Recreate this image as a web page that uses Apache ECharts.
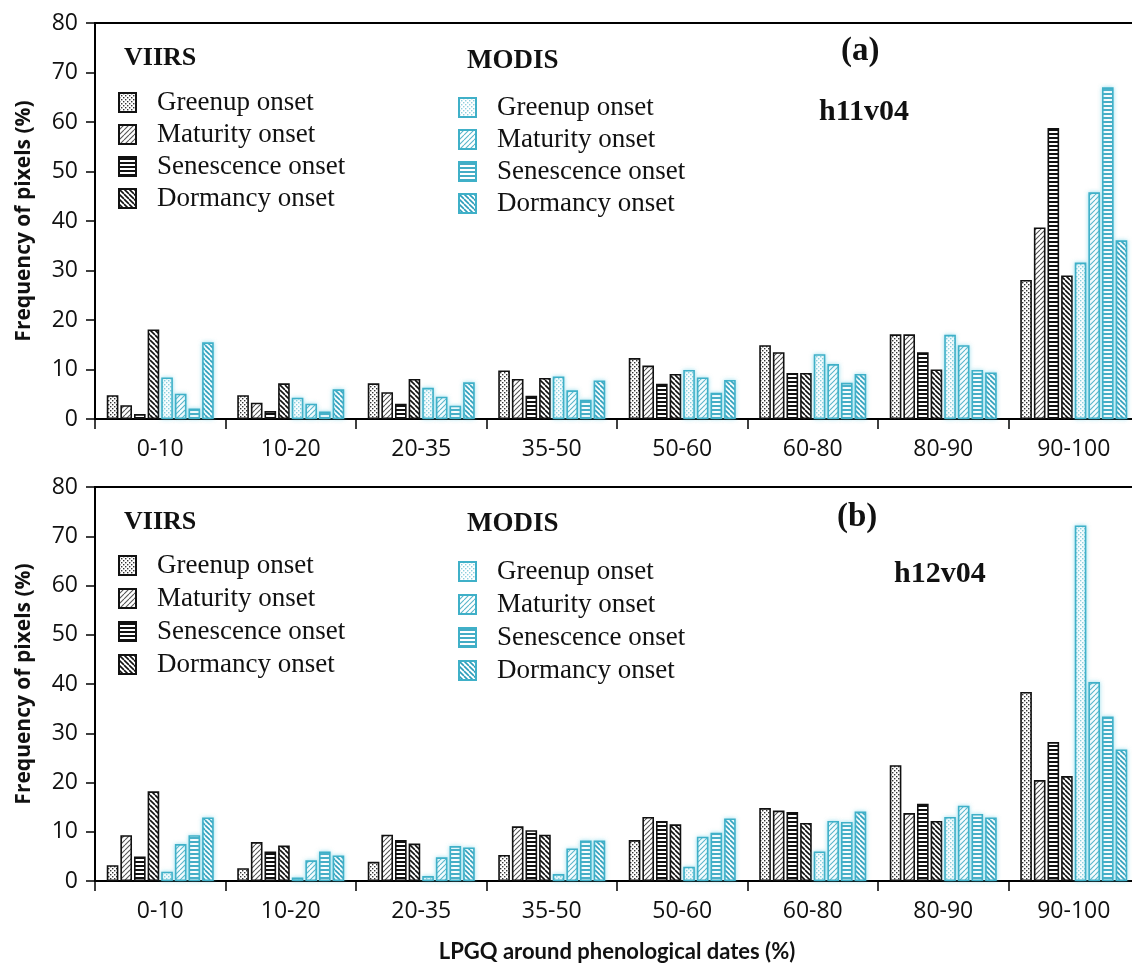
<!DOCTYPE html>
<html>
<head>
<meta charset="utf-8">
<script src="https://cdn.jsdelivr.net/npm/echarts@6/dist/echarts.min.js"></script>
<style>
  html, body { margin: 0; padding: 0; background: #fff; overflow: hidden; }
  /* the plot frame runs a little past the right edge of the page */
  #chart { width: 1150px; height: 964px; }
</style>
</head>
<body>
<div id="chart"></div>
<script>
// LPGQ classes on the x axis
const categories = ['0-10', '10-20', '20-35', '35-50', '50-60', '60-80', '80-90', '90-100'];
const onsetNames = ['Greenup onset', 'Maturity onset', 'Senescence onset', 'Dormancy onset'];
const yTicks = [0, 10, 20, 30, 40, 50, 60, 70, 80];

// (a) tile h11v04 — frequency of pixels (%)
const a_viirs_greenup    = [4.8, 4.8, 7.2, 9.8, 12.3, 14.9, 17.1, 28.1];
const a_viirs_maturity   = [2.8, 3.3, 5.4, 8.1, 10.8, 13.5, 17.1, 38.7];
const a_viirs_senescence = [1.0, 1.6, 3.1, 4.7, 7.1, 9.3, 13.5, 58.8];
const a_viirs_dormancy   = [18.1, 7.2, 8.1, 8.3, 9.1, 9.3, 10.0, 29.0];
const a_modis_greenup    = [8.4, 4.3, 6.3, 8.6, 9.9, 13.1, 17.0, 31.6];
const a_modis_maturity   = [5.1, 3.1, 4.5, 5.8, 8.4, 11.1, 14.9, 45.8];
const a_modis_senescence = [2.1, 1.5, 2.7, 3.9, 5.3, 7.3, 9.9, 67.0];
const a_modis_dormancy   = [15.5, 6.0, 7.4, 7.8, 7.9, 9.1, 9.4, 36.1];

// (b) tile h12v04 — frequency of pixels (%)
const b_viirs_greenup    = [3.2, 2.6, 3.9, 5.3, 8.3, 14.8, 23.5, 38.4];
const b_viirs_maturity   = [9.3, 7.9, 9.4, 11.1, 13.0, 14.3, 13.8, 20.5];
const b_viirs_senescence = [5.0, 6.0, 8.3, 10.3, 12.2, 14.0, 15.7, 28.2];
const b_viirs_dormancy   = [18.2, 7.2, 7.6, 9.4, 11.5, 11.8, 12.2, 21.3];
const b_modis_greenup    = [1.9, 0.7, 1.0, 1.4, 2.9, 6.0, 13.0, 72.2];
const b_modis_maturity   = [7.5, 4.2, 4.8, 6.6, 9.0, 12.2, 15.3, 40.4];
const b_modis_senescence = [9.3, 6.0, 7.1, 8.2, 9.8, 12.0, 13.6, 33.4];
const b_modis_dormancy   = [12.9, 5.2, 6.8, 8.2, 12.7, 14.1, 12.9, 26.7];

// ---- hatch fills -------------------------------------------------------
function hatch(kind, fg, lw) {
  const c = document.createElement('canvas');
  const s = kind === 'dots' ? 4 : (kind === 'hline' ? 4 : 5);
  c.width = s; c.height = s;
  const g = c.getContext('2d');
  g.fillStyle = '#fff';
  g.fillRect(0, 0, s, s);
  g.fillStyle = fg;
  g.strokeStyle = fg;
  g.lineWidth = lw;
  if (kind === 'dots') {
    g.fillRect(0, 0, 1.4, 1.4);
    g.fillRect(2, 2, 1.4, 1.4);
  } else if (kind === 'hline') {
    g.fillRect(0, 1, s, lw);
  } else {
    g.beginPath();
    for (let k = -1; k <= 1; k++) {
      if (kind === 'slash') { g.moveTo(k * s, s); g.lineTo(k * s + s, 0); }
      else { g.moveTo(k * s, 0); g.lineTo(k * s + s, s); }
    }
    g.stroke();
  }
  return { image: c, repeat: 'repeat' };
}

const TEAL = '#3fb0c8';
const styles = {
  VIIRS: [
    { fill: hatch('dots', '#333', 1), border: '#111' },
    { fill: hatch('slash', '#555', 1.1), border: '#111' },
    { fill: hatch('hline', '#111', 2), border: '#111' },
    { fill: hatch('back', '#111', 1.6), border: '#111' }
  ],
  MODIS: [
    { fill: hatch('dots', '#8fcfdd', 1), border: TEAL },
    { fill: hatch('slash', '#5ab6cb', 1.1), border: TEAL },
    { fill: hatch('hline', '#45acc5', 2), border: TEAL },
    { fill: hatch('back', '#2d9dba', 1.6), border: TEAL }
  ]
};

const panels = [
  {
    VIIRS: [a_viirs_greenup, a_viirs_maturity, a_viirs_senescence, a_viirs_dormancy],
    MODIS: [a_modis_greenup, a_modis_maturity, a_modis_senescence, a_modis_dormancy]
  },
  {
    VIIRS: [b_viirs_greenup, b_viirs_maturity, b_viirs_senescence, b_viirs_dormancy],
    MODIS: [b_modis_greenup, b_modis_maturity, b_modis_senescence, b_modis_dormancy]
  }
];

const series = [];
panels.forEach((p, pi) => {
  ['VIIRS', 'MODIS'].forEach(sensor => {
    p[sensor].forEach((vals, k) => {
      const st = styles[sensor][k];
      series.push({
        name: sensor + ' ' + onsetNames[k],
        type: 'bar',
        xAxisIndex: pi,
        yAxisIndex: pi,
        data: vals,
        barGap: '17%',
        barCategoryGap: '18%',
        itemStyle: {
          color: st.fill,
          borderColor: st.border,
          borderWidth: 1.6,
          shadowBlur: sensor === 'MODIS' ? 4 : 0,
          shadowColor: sensor === 'MODIS' ? 'rgba(100,205,228,0.55)' : 'transparent'
        },
        emphasis: { disabled: true },
        animation: false
      });
    });
  });
});

const grids = [
  { left: 95, top: 23, width: 1044, height: 396 },
  { left: 95, top: 487, width: 1044, height: 398 }
];

const tickFont = { fontFamily: 'Open Sans', fontSize: 23, color: '#111' };

const xAxes = grids.map((g, i) => ({
  type: 'category',
  gridIndex: i,
  data: categories,
  axisLine: { lineStyle: { color: '#000', width: 2 } },
  axisTick: { show: true, length: 10, lineStyle: { color: '#000', width: 1.5 } },
  axisLabel: Object.assign({ margin: 19 }, tickFont),
  name: i === 1 ? 'LPGQ around phenological dates (%)' : '',
  nameLocation: 'middle',
  nameGap: 60,
  nameTextStyle: { fontFamily: 'Lato', fontWeight: 'bold', fontSize: 22, color: '#111' }
}));

const yAxes = grids.map((g, i) => ({
  type: 'value',
  gridIndex: i,
  min: yTicks[0],
  max: yTicks[yTicks.length - 1],
  interval: yTicks[1] - yTicks[0],
  axisLine: { show: true, lineStyle: { color: '#000', width: 2 } },
  axisTick: { show: true, length: 9, lineStyle: { color: '#000', width: 1.5 } },
  axisLabel: Object.assign({ margin: 17 }, tickFont),
  splitLine: { show: false },
  name: 'Frequency of pixels (%)',
  nameLocation: 'middle',
  nameRotate: 90,
  nameGap: 60,
  nameTextStyle: { fontFamily: 'Open Sans', fontWeight: 'bold', fontSize: 21, color: '#111' }
}));

// legends: one column per sensor in each panel
const legendBase = {
  orient: 'vertical',
  icon: 'rect',
  itemWidth: 17,
  itemHeight: 19,
  padding: 0,
  selectedMode: false,
  formatter: n => n.replace(/^(VIIRS|MODIS) /, ''),
  textStyle: {
    fontFamily: 'Liberation Serif', fontSize: 27,
    color: '#111', padding: [0, 0, 0, 16]
  }
};
const legendPos = [
  { VIIRS: { left: 118, top: 89, itemGap: 5 }, MODIS: { left: 458, top: 94, itemGap: 5 } },
  { VIIRS: { left: 118, top: 552, itemGap: 6 }, MODIS: { left: 458, top: 558, itemGap: 6 } }
];
const legends = [];
legendPos.forEach(pos => {
  ['VIIRS', 'MODIS'].forEach(sensor => {
    legends.push(Object.assign({}, legendBase, pos[sensor], {
      data: onsetNames.map(n => sensor + ' ' + n)
    }));
  });
});

const serifBold = sz => 'bold ' + sz + 'px "Liberation Serif"';
const labels = [
  { text: 'VIIRS', left: 124, top: 45, font: serifBold(26) },
  { text: 'MODIS', left: 467, top: 48, font: serifBold(27) },
  { text: '(a)', left: 841, top: 35, font: serifBold(33) },
  { text: 'h11v04', left: 819, top: 97, font: serifBold(30) },
  { text: 'VIIRS', left: 124, top: 509, font: serifBold(26) },
  { text: 'MODIS', left: 467, top: 511, font: serifBold(27) },
  { text: '(b)', left: 837, top: 501, font: serifBold(33) },
  { text: 'h12v04', left: 894, top: 559, font: serifBold(30) }
];

const chart = echarts.init(document.getElementById('chart'), null, { renderer: 'canvas', devicePixelRatio: 1 });
chart.setOption({
  backgroundColor: '#fff',
  animation: false,
  grid: grids.map(g => Object.assign({ show: true, borderColor: '#000', borderWidth: 2, backgroundColor: 'transparent' }, g)),
  xAxis: xAxes,
  yAxis: yAxes,
  legend: legends,
  series: series,
  graphic: labels.map(l => ({
    type: 'text',
    left: l.left,
    top: l.top,
    style: { text: l.text, font: l.font, fill: '#111' }
  }))
});
</script>
</body>
</html>
